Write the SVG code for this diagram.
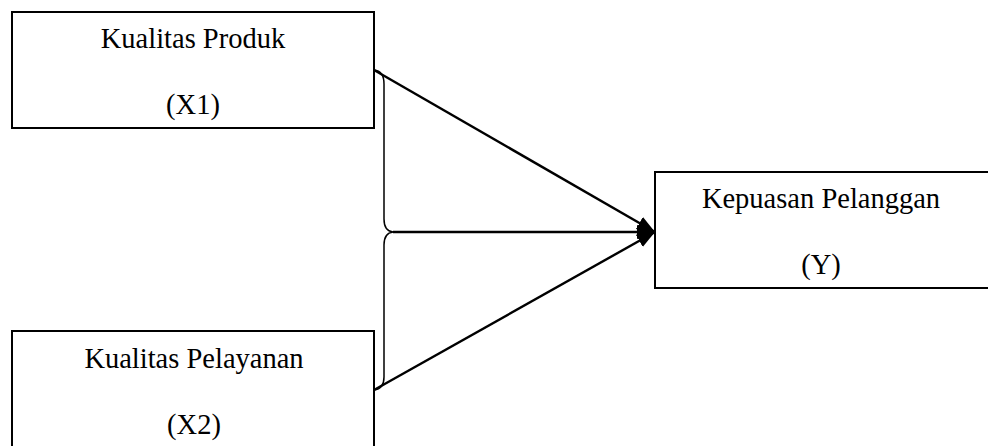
<svg xmlns="http://www.w3.org/2000/svg" width="988" height="446" viewBox="0 0 988 446">
  <style>
    .box { fill: #ffffff; stroke: #000000; stroke-width: 2; }
    .lbl { font-family: "Liberation Serif", "Times New Roman", serif; font-size: 28.5px; fill: #000000; text-anchor: middle; }
    .conn { stroke: #000000; stroke-width: 2.4; fill: none; }
    .brace { stroke: #000000; stroke-width: 1.5; fill: none; }
  </style>
  <defs>
    <marker id="arrow" markerUnits="userSpaceOnUse" markerWidth="20" markerHeight="16" refX="18" refY="7" orient="auto">
      <path d="M0,0 L18,7 L0,14 z" fill="#000000"/>
    </marker>
  </defs>
  <rect width="988" height="446" fill="#ffffff"/>

  <g id="node-x1">
    <rect class="box" x="12" y="12" width="362" height="116"/>
    <text class="lbl" x="193" y="48">Kualitas Produk</text>
    <text class="lbl" x="193" y="114">(X1)</text>
  </g>

  <g id="node-x2">
    <rect class="box" x="12" y="331" width="362" height="130"/>
    <text class="lbl" x="194" y="368">Kualitas Pelayanan</text>
    <text class="lbl" x="194" y="434">(X2)</text>
  </g>

  <g id="node-y">
    <rect class="box" x="655" y="172" width="345" height="116"/>
    <text class="lbl" x="821" y="208">Kepuasan Pelanggan</text>
    <text class="lbl" x="821" y="274">(Y)</text>
  </g>

  <g id="connectors">
    <path class="brace" d="M374,70 Q384,71 384,84 L384,219 Q384,231 393,232 Q384,233 384,245 L384,377 Q384,389 374,390"/>
    <line class="conn" x1="374" y1="70" x2="655" y2="232" marker-end="url(#arrow)"/>
    <line class="conn" x1="393" y1="232" x2="655" y2="232" marker-end="url(#arrow)"/>
    <line class="conn" x1="374" y1="390" x2="655" y2="232" marker-end="url(#arrow)"/>
  </g>
</svg>
